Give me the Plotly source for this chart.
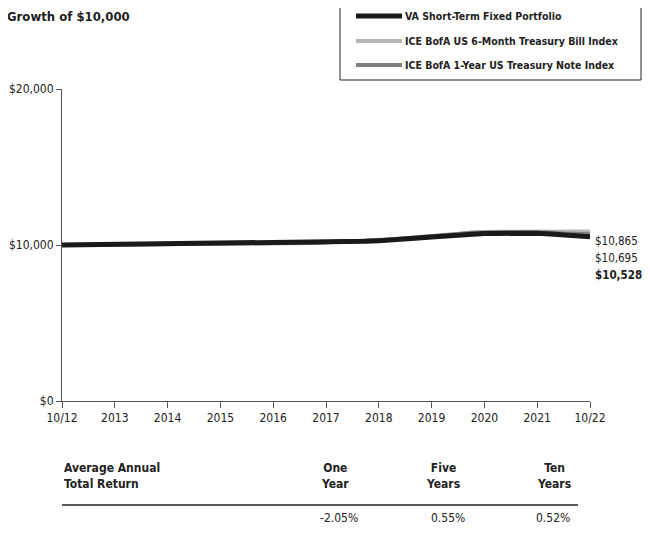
import plotly.graph_objects as go

# x positions: years since 10/2012 (quarterly)
t = [i * 0.25 for i in range(41)]
tick_vals = list(range(11))
tick_labels = ["10/12", "2013", "2014", "2015", "2016", "2017", "2018", "2019", "2020", "2021", "10/22"]

portfolio = [10000, 10010, 10020, 10025, 10030, 10035, 10040, 10050, 10060, 10050,
             10065, 10070, 10080, 10085, 10100, 10110, 10130, 10140, 10155, 10170,
             10190, 10200, 10215, 10240, 10280, 10320, 10380, 10450, 10520, 10590,
             10650, 10700, 10730, 10740, 10750, 10755, 10760, 10700, 10620, 10580, 10528]
tbill6m = [10000, 10003, 10006, 10008, 10010, 10012, 10014, 10016, 10018, 10020,
           10022, 10025, 10030, 10035, 10045, 10055, 10070, 10090, 10110, 10135,
           10165, 10195, 10230, 10270, 10320, 10370, 10430, 10490, 10560, 10620,
           10700, 10800, 10840, 10845, 10848, 10850, 10852, 10850, 10845, 10850, 10865]
note1y = [10000, 10005, 10010, 10012, 10015, 10018, 10020, 10025, 10030, 10030,
          10035, 10040, 10045, 10050, 10060, 10070, 10085, 10100, 10120, 10140,
          10170, 10195, 10225, 10265, 10310, 10360, 10420, 10480, 10550, 10620,
          10700, 10790, 10820, 10825, 10828, 10830, 10830, 10780, 10730, 10710, 10695]

returns_headers = ["One<br>Year", "Five<br>Years", "Ten<br>Years"]
returns_values = ["-2.05%", "0.55%", "0.52%"]
end_labels = ["$10,865", "$10,695", "<b>$10,528</b>"]

FONT = "DejaVu Sans Condensed, Liberation Sans Narrow, Roboto, sans-serif"

OFF = 8  # page body margin
W, H = 650 - 2 * OFF, 536 - 2 * OFF
L, T = 62 - OFF, 89 - OFF
R, B = W - (590 - OFF), H - (401 - OFF)
pw, ph = W - L - R, H - T - B


def px(x):
    return (x - OFF - L) / pw


def py(y):
    return (H - B - (y - OFF)) / ph


fig = go.Figure()
fig.add_trace(go.Scatter(x=t, y=tbill6m, mode="lines", name="ICE BofA US 6-Month Treasury Bill Index",
                         line=dict(color="#b5b5b5", width=4), showlegend=False))
fig.add_trace(go.Scatter(x=t, y=note1y, mode="lines", name="ICE BofA 1-Year US Treasury Note Index",
                         line=dict(color="#7f7f7f", width=4), showlegend=False))
fig.add_trace(go.Scatter(x=t, y=portfolio, mode="lines", name="VA Short-Term Fixed Portfolio",
                         line=dict(color="#1a1a1a", width=5), showlegend=False))

fig.update_layout(
    width=W, height=H,
    margin=dict(l=L, r=R, t=T, b=B, autoexpand=False),
    paper_bgcolor="white", plot_bgcolor="white",
    font=dict(family=FONT, size=12, color="#222"),
    xaxis=dict(range=[0, 10], tickvals=tick_vals, ticktext=tick_labels, showgrid=False, zeroline=False,
               showline=True, linecolor="#555", linewidth=1, ticks="outside", ticklen=6, tickcolor="#555",
               automargin=False, tickfont=dict(family=FONT, size=12, color="#222")),
    yaxis=dict(range=[0, 20000], tickvals=[0, 10000, 20000], ticktext=["$0", "$10,000", "$20,000"],
               showgrid=False, zeroline=False, showline=True, linecolor="#555", linewidth=1,
               ticks="outside", ticklen=5, tickcolor="#555", automargin=False,
               tickfont=dict(family=FONT, size=12, color="#222")),
)

annotations = [dict(text="<b>Growth of $10,000</b>", x=px(5), y=py(17), xref="paper", yref="paper",
                    xanchor="left", yanchor="middle", showarrow=False, font=dict(size=13, color="#222"))]

# legend box
shapes = [dict(type="rect", xref="paper", yref="paper", x0=px(340), x1=px(641), y0=py(80), y1=py(4),
               line=dict(color="#222", width=1), fillcolor="white")]
leg = [("VA Short-Term Fixed Portfolio", "#1a1a1a", 5, 16),
       ("ICE BofA US 6-Month Treasury Bill Index", "#b5b5b5", 4, 41),
       ("ICE BofA 1-Year US Treasury Note Index", "#7f7f7f", 4, 65)]
for name, col, w, yy in leg:
    shapes.append(dict(type="line", xref="paper", yref="paper", x0=px(356), x1=px(402), y0=py(yy), y1=py(yy),
                       line=dict(color=col, width=w)))
    annotations.append(dict(text="<b>" + name + "</b>", x=px(403), y=py(yy), xref="paper", yref="paper",
                            xanchor="left", yanchor="middle", showarrow=False, font=dict(size=10.5, color="#222")))

# end value labels
for lab, yy in zip(end_labels, [241, 258, 275]):
    annotations.append(dict(text=lab, x=px(593), y=py(yy), xref="paper", yref="paper", xanchor="left",
                            yanchor="middle", showarrow=False, font=dict(size=11.5, color="#222")))

# returns table
annotations.append(dict(text="<b>Average Annual<br>Total Return</b>", x=px(62), y=py(476), xref="paper",
                        yref="paper", xanchor="left", yanchor="middle", showarrow=False, align="left",
                        font=dict(size=12, color="#222")))
col_x = [335, 443, 554]
val_right = [360, 467, 572]
for hdr, val, cx, vr in zip(returns_headers, returns_values, col_x, val_right):
    annotations.append(dict(text="<b>" + hdr + "</b>", x=px(cx), y=py(476), xref="paper", yref="paper",
                            xanchor="center", yanchor="middle", showarrow=False, align="center",
                            font=dict(size=12, color="#222")))
    annotations.append(dict(text=val, x=px(vr), y=py(518), xref="paper",
                            yref="paper", xanchor="right", yanchor="middle", showarrow=False,
                            font=dict(size=12, color="#222")))
shapes.append(dict(type="line", xref="paper", yref="paper", x0=px(62), x1=px(578), y0=py(505), y1=py(505),
                   line=dict(color="#222", width=1.5)))

fig.update_layout(annotations=annotations, shapes=shapes)
fig.write_html("out.html")
